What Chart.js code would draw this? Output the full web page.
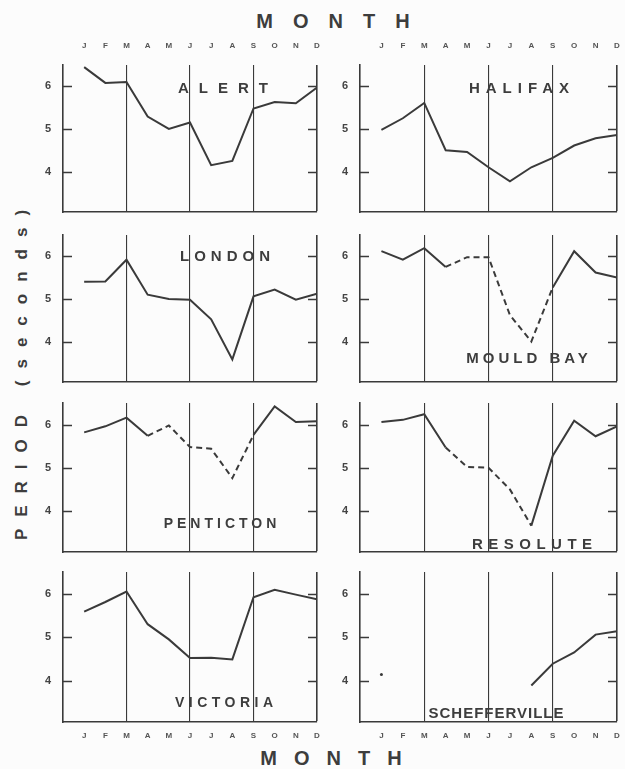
<!DOCTYPE html>
<html lang="en">

<head>
  <meta charset="UTF-8" />
  <title>Wave period by month</title>
  <script src="https://cdn.jsdelivr.net/npm/chart.js"></script>
  <style>
    body { margin: 0; background: #fff; }
    #page {
      position: relative; width: 625px; height: 769px; overflow: hidden;
      background: #fcfcfc; color: #3d3d3d;
      font-family: "Liberation Sans", Arial, sans-serif;
    }
    #page canvas { position: absolute; }
    .lbl {
      position: absolute; font-weight: bold; white-space: nowrap; line-height: 1;
      transform: translate(-50%, -50%);
    }
  </style>
</head>

<body>
  <div id="page">
    <div class="lbl" style="left:333px;top:21px;font-size:20px;letter-spacing:20px;padding-left:20px">MONTH</div>
    <div class="lbl" style="left:331px;top:758px;font-size:20px;letter-spacing:17px;padding-left:17px">MONTH</div>
    <div class="lbl" style="left:21px;top:375px;font-size:17px;letter-spacing:12px;padding-left:12px;transform:translate(-50%,-50%) rotate(-90deg)">PERIOD (seconds)</div>
  </div>

  <script>
    // month letters along the top and bottom, y ticks
    const months = ['J', 'F', 'M', 'A', 'M', 'J', 'J', 'A', 'S', 'O', 'N', 'D'];
    const yTicks = [4, 5, 6];
    const gridMonths = [2, 5, 8, 11]; // M, J, S and the right edge

    // period (seconds) per month
    const alert = [6.45, 6.08, 6.1, 5.29, 5.0, 5.15, 4.15, 4.25, 5.48, 5.63, 5.6, 5.97];
    const halifax = [4.98, 5.25, 5.61, 4.5, 4.46, 4.1, 3.77, 4.1, 4.32, 4.61, 4.78, 4.86];
    const london = [5.4, 5.41, 5.92, 5.1, 5.0, 4.98, 4.52, 3.58, 5.06, 5.22, 4.98, 5.12];
    const mouldBay = [6.12, 5.92, 6.19, 5.75, 5.98, 5.98, 4.62, 4.0, 5.27, 6.12, 5.62, 5.5];
    const penticton = [5.82, 5.96, 6.16, 5.74, 5.98, 5.48, 5.44, 4.76, 5.76, 6.42, 6.06, 6.08];
    const resolute = [6.06, 6.11, 6.24, 5.47, 5.02, 5.0, 4.5, 3.66, 5.28, 6.09, 5.73, 5.96];
    const victoria = [5.59, 5.81, 6.05, 5.3, 4.95, 4.52, 4.53, 4.49, 5.92, 6.09, 5.98, 5.87];
    const schefferville = [4.14, null, null, null, null, null, null, 3.89, 4.39, 4.65, 5.06, 5.14];

    // frame edges of each column / row (px)
    const cols = [{ l: 63, r: 317 }, { l: 360, r: 617 }];
    const rows = [{ t: 65, b: 212 }, { t: 235, b: 382 }, { t: 403, b: 552 }, { t: 572, b: 722 }];

    // dash: segments from index a to index b are dashed
    const panels = [
      { name: 'ALERT', values: alert, col: 0, row: 0, lx: 223, ly: 87, fs: 15, ls: 10 },
      { name: 'HALIFAX', values: halifax, col: 1, row: 0, lx: 519, ly: 87, fs: 15, ls: 6 },
      { name: 'LONDON', values: london, col: 0, row: 1, lx: 225, ly: 255, fs: 15, ls: 5 },
      { name: 'MOULD BAY', values: mouldBay, col: 1, row: 1, lx: 527, ly: 357, fs: 15, ls: 4, dash: [3, 8] },
      { name: 'PENTICTON', values: penticton, col: 0, row: 2, lx: 220, ly: 523, fs: 14, ls: 4, dash: [3, 8] },
      { name: 'RESOLUTE', values: resolute, col: 1, row: 2, lx: 532, ly: 543, fs: 15, ls: 5.5, dash: [3, 7] },
      { name: 'VICTORIA', values: victoria, col: 0, row: 3, lx: 224, ly: 702, fs: 14, ls: 4.5 },
      { name: 'SCHEFFERVILLE', values: schefferville, col: 1, row: 3, lx: 496, ly: 712, fs: 15, ls: 1 }
    ];

    const ink = '#3a3a3a';
    const M = 22; // spare room round each plot so chart.js doesn't shrink it

    // short tick marks pointing into the frame on both sides
    const innerTicks = {
      id: 'innerTicks',
      afterDatasetsDraw(chart) {
        const { ctx, chartArea: a, scales: { y } } = chart;
        ctx.save();
        ctx.strokeStyle = ink;
        ctx.lineWidth = 1.6;
        yTicks.forEach(v => {
          const py = Math.round(y.getPixelForValue(v)) + 0.5;
          ctx.beginPath();
          ctx.moveTo(a.left, py); ctx.lineTo(a.left + 9, py);
          ctx.moveTo(a.right - 9, py); ctx.lineTo(a.right, py);
          ctx.stroke();
        });
        ctx.restore();
      }
    };

    const page = document.getElementById('page');

    panels.forEach(p => {
      const c = cols[p.col], r = rows[p.row];
      const topOff = p.row === 0 ? 30 : M;
      const botH = p.row === 3 ? 26 : 4;
      const canvas = document.createElement('canvas');
      canvas.width = 40 + (c.r - c.l) + M;
      canvas.height = topOff + (r.b - r.t) + botH + M;
      canvas.style.left = (c.l - 40) + 'px';
      canvas.style.top = (r.t - topOff) + 'px';
      page.appendChild(canvas);

      const lbl = document.createElement('div');
      lbl.className = 'lbl';
      lbl.textContent = p.name;
      lbl.style.left = p.lx + 'px';
      lbl.style.top = p.ly + 'px';
      lbl.style.fontSize = p.fs + 'px';
      lbl.style.letterSpacing = p.ls + 'px';
      lbl.style.paddingLeft = p.ls + 'px';
      page.appendChild(lbl);

      const points = p.values.map((v, i) => ({ x: i, y: v }));
      const monthTicks = s => { s.ticks = months.map((m, i) => ({ value: i })); };
      const tickFont = { family: '"Liberation Sans", Arial, sans-serif', size: 8, weight: 'bold' };

      new Chart(canvas, {
        type: 'line',
        data: {
          datasets: [{
            data: points,
            borderColor: ink,
            borderWidth: 2,
            tension: 0,
            pointRadius: ctx => {
              const d = ctx.dataset.data, i = ctx.dataIndex;
              const prev = i > 0 ? d[i - 1].y : null;
              const next = i < d.length - 1 ? d[i + 1].y : null;
              return d[i].y != null && prev == null && next == null ? 1.5 : 0;
            },
            pointBackgroundColor: ink,
            pointBorderWidth: 0,
            segment: {
              borderDash: ctx => (p.dash && ctx.p0DataIndex >= p.dash[0] && ctx.p1DataIndex <= p.dash[1]) ? [6, 4] : undefined
            }
          }]
        },
        options: {
          responsive: false,
          animation: false,
          layout: { padding: { top: p.row === 0 ? 0 : M, right: M, bottom: M, left: 0 } },
          plugins: { legend: { display: false }, tooltip: { enabled: false } },
          scales: {
            x: {
              type: 'linear', min: -1, max: 11, position: 'bottom',
              afterBuildTicks: monthTicks,
              afterFit: s => { s.height = botH; },
              ticks: {
                display: p.row === 3, autoSkip: false, maxRotation: 0, padding: 9,
                color: '#555', font: tickFont, callback: v => months[v]
              },
              grid: {
                drawTicks: false,
                color: ctx => gridMonths.includes(ctx.tick && ctx.tick.value) ? ink : 'transparent',
                lineWidth: ctx => (ctx.tick && ctx.tick.value === 11) ? 1.6 : 1.1
              },
              border: { display: true, color: ink, width: 1.6 }
            },
            xTop: {
              type: 'linear', min: -1, max: 11, position: 'top', axis: 'x',
              display: p.row === 0,
              afterBuildTicks: monthTicks,
              afterFit: s => { if (p.row === 0) s.height = 30; },
              ticks: {
                autoSkip: false, maxRotation: 0, padding: 14,
                color: '#555', font: tickFont, callback: v => months[v]
              },
              grid: { display: false, drawTicks: false },
              border: { display: false }
            },
            y: {
              min: 3.05, max: 6.5,
              afterBuildTicks: s => { s.ticks = yTicks.map(v => ({ value: v })); },
              afterFit: s => { s.width = 40; },
              ticks: {
                padding: 12, color: '#444',
                font: { family: '"Liberation Sans", Arial, sans-serif', size: 11, weight: 'bold' }
              },
              grid: { display: false, drawTicks: false },
              border: { display: true, color: ink, width: 1.6 }
            }
          }
        },
        plugins: [innerTicks]
      });
    });
  </script>
</body>

</html>
